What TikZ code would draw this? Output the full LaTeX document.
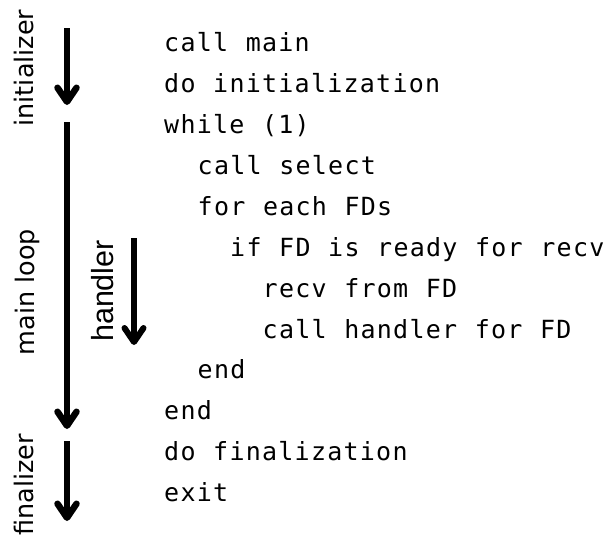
\documentclass[tikz,border=0pt]{standalone}
\usepackage{fontspec}
\setmainfont{DejaVu Sans}
\newfontfamily\codefont[LetterSpace=5,WordSpace=1.083]{DejaVu Sans Mono}
\newfontfamily\hfont{Liberation Sans}
\usetikzlibrary{arrows.meta}
\begin{document}
\begin{tikzpicture}[x=1pt,y=-1pt,
  code/.style={anchor=base west, inner sep=0pt, font=\codefont\fontsize{25}{30}\selectfont},
  lab/.style={anchor=base, rotate=90, inner sep=0pt, font=\fontsize{25.5}{30}\selectfont},
  hlab/.style={anchor=base, rotate=90, inner sep=0pt, font=\hfont\fontsize{30.5}{36}\selectfont},
  flow/.style={line width=6.5pt, -{Straight Barb[length=14pt,width=19pt,round]}},
  hflow/.style={line width=6pt, -{Straight Barb[length=14pt,width=19pt,round]}},
]
\useasboundingbox (0,0) rectangle (607,539);
% code lines
\node[code] (l1)  at (164,51.7)  {call main};
\node[code] (l2)  at (164,92.6)  {do initialization};
\node[code] (l3)  at (164,133.5) {while (1)};
\node[code] (l4)  at (197.5,174.4) {call select};
\node[code] (l5)  at (197.5,215.3) {for each FDs};
\node[code] (l6)  at (230,256.2) {if FD is ready for recv};
\node[code] (l7)  at (262.5,297.1) {recv from FD};
\node[code] (l8)  at (262.5,338.0) {call handler for FD};
\node[code] (l9)  at (197.5,378.9) {end};
\node[code] (l10) at (164,419.8) {end};
\node[code] (l11) at (164,460.7) {do finalization};
\node[code] (l12) at (164,501.6) {exit};
% labels
\node[lab]  (tinit)  at (33,68)   {initializer};
\node[lab]  (tmain)  at (34,292)  {main loop};
\node[lab]  (tfin)   at (33,485)  {finalizer};
\node[hlab] (thand)  at (113,291) {handler};
% arrows
\coordinate (ia) at (67,28);  \coordinate (ib) at (67,105);
\coordinate (ma) at (67,122); \coordinate (mb) at (67,429);
\coordinate (fa) at (67,441); \coordinate (fb) at (67,521);
\coordinate (ha) at (134,238); \coordinate (hb) at (134,345);
\draw[flow] (ia) -- (ib);
\draw[flow] (ma) -- (mb);
\draw[flow] (fa) -- (fb);
\draw[hflow] (ha) -- (hb);
\end{tikzpicture}
\end{document}
